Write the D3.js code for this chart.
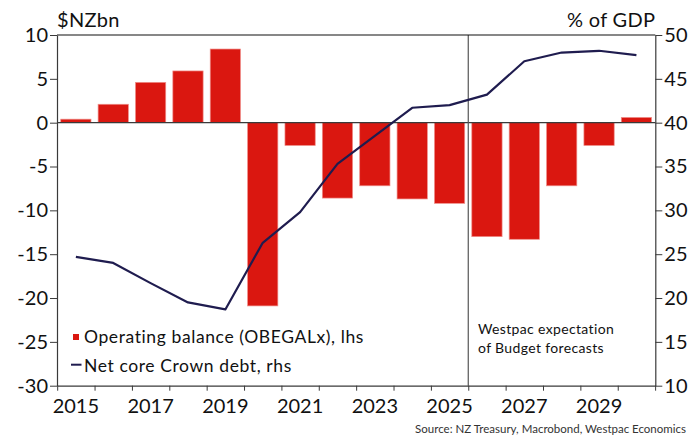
<!DOCTYPE html>
<html>
<head>
<meta charset="utf-8">
<script src="https://cdn.jsdelivr.net/npm/d3@7"></script>
<style>
  html, body { margin: 0; padding: 0; background: #fff; }
  svg { display: block; font-family: Lato, "Noto Sans", sans-serif; }
</style>
</head>
<body>
<svg id="chart" width="697" height="436"></svg>
<script>
// Fiscal years shown on the x axis
const years = [2015, 2016, 2017, 2018, 2019, 2020, 2021, 2022, 2023, 2024, 2025, 2026, 2027, 2028, 2029, 2030];
// Operating balance before gains and losses (OBEGALx), $NZbn, left axis
const operatingBalance = [0.4, 2.1, 4.6, 5.9, 8.4, -20.9, -2.6, -8.6, -7.2, -8.7, -9.2, -13.0, -13.3, -7.2, -2.6, 0.6];
// Net core Crown debt, % of GDP, right axis
const netDebt = [24.7, 24.0, 21.7, 19.5, 18.7, 26.3, 29.8, 35.3, 38.5, 41.7, 42.0, 43.2, 47.0, 48.0, 48.2, 47.7];
// Axis ticks and labels
const leftTicks = [-30, -25, -20, -15, -10, -5, 0, 5, 10];
const rightTicks = [10, 15, 20, 25, 30, 35, 40, 45, 50];
const yearLabels = [2015, 2017, 2019, 2021, 2023, 2025, 2027, 2029];
const forecastStart = 2026;

const W = 697, H = 436;
const m = { left: 57, right: 41.7, top: 35, bottom: 50.3 };
const x0 = m.left, x1 = W - m.right, y0 = m.top, y1 = H - m.bottom;

const svg = d3.select("#chart");
const RED = "#da1710", NAVY = "#1f1c4f", AXIS = "#3a3a3a";

const x = d3.scaleBand().domain(years).range([x0, x1]).paddingInner(0.19).paddingOuter(0.1);
const yL = d3.scaleLinear().domain([-30, 10]).range([y1, y0]);
const yR = d3.scaleLinear().domain([10, 50]).range([y1, y0]);
const step = x.step();
const boundary = yr => x(yr) - step * x.paddingInner() / 2;

// Bars
svg.append("g").selectAll("rect").data(years).join("rect")
  .attr("x", d => x(d))
  .attr("width", x.bandwidth())
  .attr("y", (d, i) => yL(Math.max(0, operatingBalance[i])))
  .attr("height", (d, i) => Math.abs(yL(operatingBalance[i]) - yL(0)))
  .attr("fill", RED)
  .attr("stroke", "#ef8f8a")
  .attr("stroke-width", 0.7);

// Zero line
svg.append("line")
  .attr("x1", x0).attr("x2", x1).attr("y1", yL(0)).attr("y2", yL(0))
  .attr("stroke", AXIS).attr("stroke-width", 1.2);

// Forecast divider
svg.append("line")
  .attr("x1", boundary(forecastStart)).attr("x2", boundary(forecastStart))
  .attr("y1", y0).attr("y2", y1)
  .attr("stroke", "#555").attr("stroke-width", 1.2);

// Debt line
const line = d3.line()
  .x((d, i) => x(years[i]) + x.bandwidth() / 2)
  .y(d => yR(d));
svg.append("path").datum(netDebt)
  .attr("d", line)
  .attr("fill", "none")
  .attr("stroke", NAVY)
  .attr("stroke-width", 2.2)
  .attr("stroke-linejoin", "round");

// Plot frame (top border)
svg.append("line")
  .attr("x1", x0).attr("x2", x1).attr("y1", y0).attr("y2", y0)
  .attr("stroke", "#111").attr("stroke-width", 1.2);

// Left axis
const gL = svg.append("g").attr("transform", `translate(${x0},0)`)
  .call(d3.axisLeft(yL).tickValues(leftTicks).tickSize(7).tickSizeOuter(0).tickPadding(2)
    .tickFormat(d => d));
// Right axis
const gR = svg.append("g").attr("transform", `translate(${x1},0)`)
  .call(d3.axisRight(yR).tickValues(rightTicks).tickSize(7).tickSizeOuter(0).tickPadding(2));
// Bottom axis: ticks at year boundaries
const xt = d3.scaleLinear().domain([0, years.length]).range([boundary(years[0]), boundary(years[0]) + step * years.length]);
const gB = svg.append("g").attr("transform", `translate(0,${y1})`)
  .call(d3.axisBottom(xt).tickValues(d3.range(0, years.length + 1)).tickSize(5).tickSizeOuter(0).tickFormat(""));
// Year labels at band centres
const gBL = svg.append("g").attr("transform", `translate(0,${y1})`)
  .call(d3.axisBottom(x).tickValues(yearLabels).tickSize(0).tickPadding(13));
gBL.select(".domain").remove();

[gL, gR, gB].forEach(g => {
  g.select(".domain").attr("stroke", AXIS).attr("stroke-width", 1.2);
  g.selectAll(".tick line").attr("stroke", AXIS).attr("stroke-width", 1);
});
[gL, gR, gBL].forEach(g => {
  g.selectAll("text").attr("font-family", "Lato, sans-serif").attr("font-size", 20).attr("fill", "#111");
});

// Axis titles
svg.append("text").attr("x", x0).attr("y", 27)
  .attr("font-size", 20).attr("letter-spacing", 0.3).attr("fill", "#111").text("$NZbn");
svg.append("text").attr("x", x1).attr("y", 27).attr("text-anchor", "end")
  .attr("font-size", 20).attr("letter-spacing", 0.3).attr("fill", "#111").text("% of GDP");

// Legend
const lg = svg.append("g");
lg.append("rect").attr("x", 73).attr("y", 334).attr("width", 6).attr("height", 6).attr("fill", RED);
lg.append("text").attr("x", 84).attr("y", 343).attr("font-size", 17.5).attr("letter-spacing", 0.6).attr("fill", "#111")
  .text("Operating balance (OBEGALx), lhs");
lg.append("line").attr("x1", 71).attr("x2", 81.5).attr("y1", 364.7).attr("y2", 364.7)
  .attr("stroke", NAVY).attr("stroke-width", 2);
lg.append("text").attr("x", 84).attr("y", 372).attr("font-size", 17.5).attr("letter-spacing", 0.6).attr("fill", "#111")
  .text("Net core Crown debt, rhs");

// Forecast annotation
const ann = svg.append("text").attr("x", 478).attr("font-size", 14).attr("letter-spacing", 0.35).attr("fill", "#111");
ann.append("tspan").attr("x", 478).attr("y", 334).text("Westpac expectation");
ann.append("tspan").attr("x", 478).attr("y", 353).text("of Budget forecasts");

// Source
svg.append("text").attr("x", 686).attr("y", 433).attr("text-anchor", "end")
  .attr("font-size", 11.5).attr("fill", "#333")
  .text("Source: NZ Treasury, Macrobond, Westpac Economics");
</script>
</body>
</html>
